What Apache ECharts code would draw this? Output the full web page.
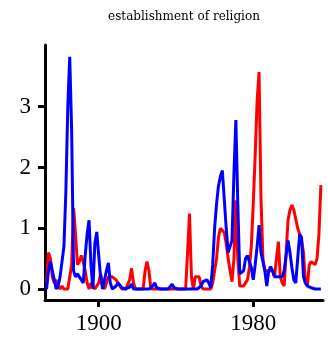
<!DOCTYPE html>
<html>
<head>
<meta charset="utf-8">
<script src="https://cdn.jsdelivr.net/npm/echarts@6/dist/echarts.min.js"></script>
<style>
  html, body { margin: 0; padding: 0; background: #fff; }
  #chart { width: 328px; height: 343px; }
</style>
</head>
<body>
<div id="chart"></div>
<script>
// Annual observations, 1873-2015
const years = [
  1873, 1874, 1875, 1876, 1877, 1878, 1879,
  1880, 1881, 1882, 1883, 1884, 1885, 1886, 1887, 1888, 1889,
  1890, 1891, 1892, 1893, 1894, 1895, 1896, 1897, 1898, 1899,
  1900, 1901, 1902, 1903, 1904, 1905, 1906, 1907, 1908, 1909,
  1910, 1911, 1912, 1913, 1914, 1915, 1916, 1917, 1918, 1919,
  1920, 1921, 1922, 1923, 1924, 1925, 1926, 1927, 1928, 1929,
  1930, 1931, 1932, 1933, 1934, 1935, 1936, 1937, 1938, 1939,
  1940, 1941, 1942, 1943, 1944, 1945, 1946, 1947, 1948, 1949,
  1950, 1951, 1952, 1953, 1954, 1955, 1956, 1957, 1958, 1959,
  1960, 1961, 1962, 1963, 1964, 1965, 1966, 1967, 1968, 1969,
  1970, 1971, 1972, 1973, 1974, 1975, 1976, 1977, 1978, 1979,
  1980, 1981, 1982, 1983, 1984, 1985, 1986, 1987, 1988, 1989,
  1990, 1991, 1992, 1993, 1994, 1995, 1996, 1997, 1998, 1999,
  2000, 2001, 2002, 2003, 2004, 2005, 2006, 2007, 2008, 2009,
  2010, 2011, 2012, 2013, 2014, 2015
];

const redValues = [
  0.1, 0.6, 0.5, 0.2, 0.1, 0.15, 0.05,
  0.0, 0.05, 0.0, 0.0, 0.0, 0.0, 0.4, 1.33, 0.9, 0.4,
  0.45, 0.55, 0.45, 0.3, 0.1, 0.0, 0.1, 0.05, 0.0, 0.0,
  0.1, 0.25, 0.1, 0.0, 0.1, 0.2, 0.2, 0.2, 0.2, 0.15,
  0.1, 0.05, 0.0, 0.0, 0.0, 0.0, 0.15, 0.34, 0.1, 0.0,
  0.0, 0.0, 0.0, 0.0, 0.3, 0.45, 0.3, 0.0, 0.0, 0.0,
  0.0, 0.0, 0.0, 0.0, 0.0, 0.0, 0.0, 0.0, 0.0, 0.0,
  0.0, 0.0, 0.0, 0.0, 0.0, 0.0, 0.6, 1.24, 0.2, 0.0,
  0.2, 0.23, 0.2, 0.05, 0.0, 0.0, 0.0, 0.0, 0.0, 0.1,
  0.3, 0.5, 0.85, 1.0, 0.97, 0.93, 0.75, 0.5, 0.3, 0.12,
  0.5, 1.46, 0.5, 0.05, 0.05, 0.05, 0.1, 0.15, 0.35, 0.7,
  1.4, 2.2, 3.1, 3.57, 1.5, 0.5, 0.3, 0.3, 0.3, 0.3,
  0.3, 0.2, 0.5, 0.78, 0.2, 0.1, 0.05, 0.6, 1.13, 1.3,
  1.38, 1.3, 1.15, 1.0, 0.9, 0.8, 0.6, 0.1, 0.05, 0.4,
  0.45, 0.42, 0.4, 0.5, 0.9, 1.71
];

const blueValues = [
  0.0, 0.3, 0.45, 0.3, 0.15, 0.0, 0.05,
  0.2, 0.45, 0.7, 1.6, 3.0, 3.82, 2.6, 0.3, 0.2, 0.25,
  0.2, 0.15, 0.1, 0.55, 0.9, 1.13, 0.4, 0.0, 0.75, 0.94,
  0.55, 0.2, 0.0, 0.15, 0.3, 0.43, 0.1, 0.0, 0.0, 0.05,
  0.1, 0.1, 0.02, 0.0, 0.0, 0.0, 0.03, 0.08, 0.0, 0.0,
  0.0, 0.0, 0.0, 0.0, 0.0, 0.0, 0.0, 0.0, 0.05, 0.1,
  0.02, 0.0, 0.0, 0.0, 0.0, 0.0, 0.0, 0.0, 0.08, 0.02,
  0.0, 0.0, 0.0, 0.0, 0.0, 0.0, 0.0, 0.0, 0.0, 0.0,
  0.0, 0.0, 0.0, 0.05, 0.12, 0.15, 0.15, 0.1, 0.02, 0.4,
  1.0, 1.4, 1.7, 1.85, 1.95, 1.98, 1.0, 0.6, 0.6, 0.8,
  1.9, 2.78, 1.4, 0.25, 0.25, 0.3, 0.5, 0.55, 0.57, 0.35,
  0.15, 0.4, 0.7, 1.05, 0.6, 0.45, 0.3, 0.05, 0.3, 0.37,
  0.3, 0.2, 0.2, 0.2, 0.2, 0.2, 0.3, 0.55, 0.8, 0.6,
  0.35, 0.15, 0.1, 0.5, 0.9, 0.85, 0.2, 0.1, 0.05, 0.04,
  0.02, 0.05, 0.0, 0.0, 0.0, 0.0
];

const xTicks = [1900, 1980];
const yTicks = [0, 1, 2, 3];
const titleText = 'establishment of religion';

const pair = (vals) => years.map((y, i) => [y, vals[i]]);

const chart = echarts.init(document.getElementById('chart'), null, { renderer: 'canvas' });

const axisFont = { fontFamily: 'Liberation Serif', fontSize: 23, color: '#000' };

chart.setOption({
  animation: false,
  backgroundColor: '#fff',
  grid: { left: 45, right: 5, top: 45, bottom: 43, containLabel: false },
  graphic: [{
    type: 'text',
    x: 184, y: 17,
    style: {
      text: titleText,
      fontFamily: 'DejaVu Serif',
      fontSize: 12,
      fill: '#000',
      align: 'center',
      verticalAlign: 'middle'
    }
  }],
  xAxis: {
    type: 'value',
    min: 1872.2,
    max: 2016.1,
    splitLine: { show: false },
    axisLine: { show: true, onZero: false, lineStyle: { color: '#000', width: 3 } },
    axisTick: { show: true, customValues: xTicks, length: 7, lineStyle: { color: '#000', width: 3 } },
    axisLabel: Object.assign({ customValues: xTicks, margin: 12, formatter: (v) => String(v) }, axisFont)
  },
  yAxis: {
    type: 'value',
    min: -0.181,
    max: 4.015,
    splitLine: { show: false },
    axisLine: { show: true, onZero: false, lineStyle: { color: '#000', width: 3 } },
    axisTick: { show: true, customValues: yTicks, length: 7, lineStyle: { color: '#000', width: 3 } },
    axisLabel: Object.assign({ customValues: yTicks, margin: 14, formatter: (v) => String(v) }, axisFont)
  },
  series: [
    {
      type: 'line',
      data: pair(redValues),
      showSymbol: false,
      lineStyle: { color: '#ff0000', width: 3 },
      itemStyle: { color: '#ff0000' },
      z: 2
    },
    {
      type: 'line',
      data: pair(blueValues),
      showSymbol: false,
      lineStyle: { color: '#0000ff', width: 3 },
      itemStyle: { color: '#0000ff' },
      z: 3
    }
  ]
});
</script>
</body>
</html>
